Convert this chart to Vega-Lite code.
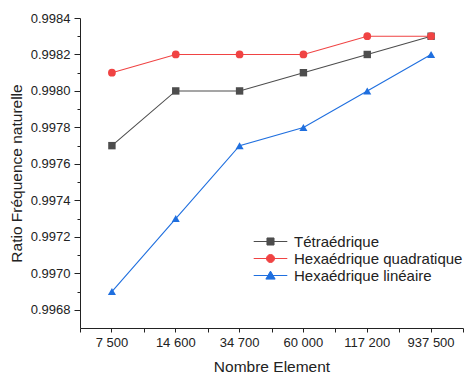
{
  "$schema": "https://vega.github.io/schema/vega-lite/v6.json",
  "width": 383,
  "height": 310,
  "autosize": {"type": "none"},
  "padding": {"left": 80, "top": 18, "right": 11, "bottom": 48},
  "background": "white",
  "config": {
    "view": {"stroke": null},
    "font": "Liberation Sans",
    "axis": {"labelFont": "Liberation Sans", "titleFont": "Liberation Sans", "labelColor": "#222", "titleColor": "#222", "domainColor": "#222", "tickColor": "#222", "titleFontWeight": "normal", "grid": false}
  },
  "data": {
    "values": [
      {"n": "7 500", "serie": "Tétraédrique", "v": 0.9977},
      {"n": "14 600", "serie": "Tétraédrique", "v": 0.9980},
      {"n": "34 700", "serie": "Tétraédrique", "v": 0.9980},
      {"n": "60 000", "serie": "Tétraédrique", "v": 0.9981},
      {"n": "117 200", "serie": "Tétraédrique", "v": 0.9982},
      {"n": "937 500", "serie": "Tétraédrique", "v": 0.9983},
      {"n": "7 500", "serie": "Hexaédrique quadratique", "v": 0.9981},
      {"n": "14 600", "serie": "Hexaédrique quadratique", "v": 0.9982},
      {"n": "34 700", "serie": "Hexaédrique quadratique", "v": 0.9982},
      {"n": "60 000", "serie": "Hexaédrique quadratique", "v": 0.9982},
      {"n": "117 200", "serie": "Hexaédrique quadratique", "v": 0.9983},
      {"n": "937 500", "serie": "Hexaédrique quadratique", "v": 0.9983},
      {"n": "7 500", "serie": "Hexaédrique linéaire", "v": 0.9969},
      {"n": "14 600", "serie": "Hexaédrique linéaire", "v": 0.9973},
      {"n": "34 700", "serie": "Hexaédrique linéaire", "v": 0.9977},
      {"n": "60 000", "serie": "Hexaédrique linéaire", "v": 0.9978},
      {"n": "117 200", "serie": "Hexaédrique linéaire", "v": 0.9980},
      {"n": "937 500", "serie": "Hexaédrique linéaire", "v": 0.9982}
    ]
  },
  "encoding": {
    "x": {
      "field": "n", "type": "ordinal",
      "sort": ["7 500", "14 600", "34 700", "60 000", "117 200", "937 500"],
      "scale": {"type": "band", "paddingInner": 0, "paddingOuter": 0}
    },
    "y": {
      "field": "v", "type": "quantitative",
      "scale": {"domain": [0.9967, 0.9984], "zero": false, "nice": false},
      "axis": {
        "title": "Ratio Fréquence naturelle",
        "titleFontSize": 15.5,
        "titlePadding": 6,
        "labelFontSize": 13,
        "labelPadding": 4,
        "values": [0.9968, 0.9969, 0.9970, 0.9971, 0.9972, 0.9973, 0.9974, 0.9975, 0.9976, 0.9977, 0.9978, 0.9979, 0.9980, 0.9981, 0.9982, 0.9983, 0.9984],
        "labelExpr": "round(datum.value*10000) % 2 == 0 ? format(datum.value, '.4f') : ''",
        "tickSize": {"condition": {"test": "round(datum.value*10000) % 2 != 0", "value": 3}, "value": 6}
      }
    },
    "color": {
      "field": "serie", "type": "nominal",
      "scale": {"domain": ["Tétraédrique", "Hexaédrique quadratique", "Hexaédrique linéaire"], "range": ["#4d4d4d", "#f04343", "#1f6fdf"]},
      "legend": {
        "title": null,
        "orient": "none",
        "legendX": 182,
        "legendY": 215,
        "labelFontSize": 15,
        "labelFont": "Liberation Sans",
        "labelColor": "#222",
        "labelLimit": 0,
        "symbolSize": 256,
        "rowPadding": 0,
        "labelOffset": 15,
        "symbolStrokeWidth": 1,
        "encode": {
          "symbols": {
            "update": {
              "shape": {"signal": "datum.value == 'Tétraédrique' ? 'M-2.1,0H2.1M-0.44,-0.44H0.44V0.44H-0.44Z' : datum.value == 'Hexaédrique quadratique' ? 'M-2.1,0H2.1M0.5,0A0.5,0.5,0,1,1,-0.5,0A0.5,0.5,0,1,1,0.5,0Z' : 'M-2.1,0H2.1M0,-0.55L0.58,0.45H-0.58Z'"},
              "stroke": {"signal": "datum.value == 'Tétraédrique' ? '#666' : datum.value == 'Hexaédrique quadratique' ? '#f04343' : '#1f6fdf'"},
              "fill": {"signal": "datum.value == 'Tétraédrique' ? '#4d4d4d' : datum.value == 'Hexaédrique quadratique' ? '#f04343' : '#1f6fdf'"},
              "opacity": {"value": 1},
              "strokeWidth": {"value": 1}
            }
          }
        }
      }
    }
  },
  "layer": [
    {
      "mark": {"type": "line", "strokeWidth": 1.1},
      "encoding": {
        "x": {
          "field": "n", "type": "ordinal",
          "sort": ["7 500", "14 600", "34 700", "60 000", "117 200", "937 500"],
          "axis": {"title": "Nombre Element", "titleFontSize": 15.5, "titlePadding": 10, "labelFontSize": 13, "labelAngle": 0, "tickSize": 4, "labelPadding": 4, "orient": "bottom"}
        }
      }
    },
    {
      "transform": [{"filter": "datum.serie == 'Tétraédrique'"}],
      "mark": {"type": "point", "filled": true, "opacity": 1, "size": 55, "shape": "square"},
      "encoding": {
        "x": {
          "field": "n", "type": "ordinal",
          "sort": ["7 500", "14 600", "34 700", "60 000", "117 200", "937 500"],
          "axis": {"title": null, "labels": false, "domain": false, "tickSize": 4, "tickBand": "extent", "orient": "bottom"}
        }
      }
    },
    {
      "transform": [{"filter": "datum.serie == 'Hexaédrique quadratique'"}],
      "mark": {"type": "point", "filled": true, "opacity": 1, "size": 60, "shape": "circle"},
      "encoding": {
        "x": {
          "field": "n", "type": "ordinal",
          "sort": ["7 500", "14 600", "34 700", "60 000", "117 200", "937 500"],
          "axis": null
        }
      }
    },
    {
      "transform": [{"filter": "datum.serie == 'Hexaédrique linéaire'"}],
      "mark": {"type": "point", "filled": true, "opacity": 1, "size": 65, "shape": "triangle-up"},
      "encoding": {
        "x": {
          "field": "n", "type": "ordinal",
          "sort": ["7 500", "14 600", "34 700", "60 000", "117 200", "937 500"],
          "axis": null
        }
      }
    }
  ],
  "resolve": {"axis": {"x": "independent"}}
}
